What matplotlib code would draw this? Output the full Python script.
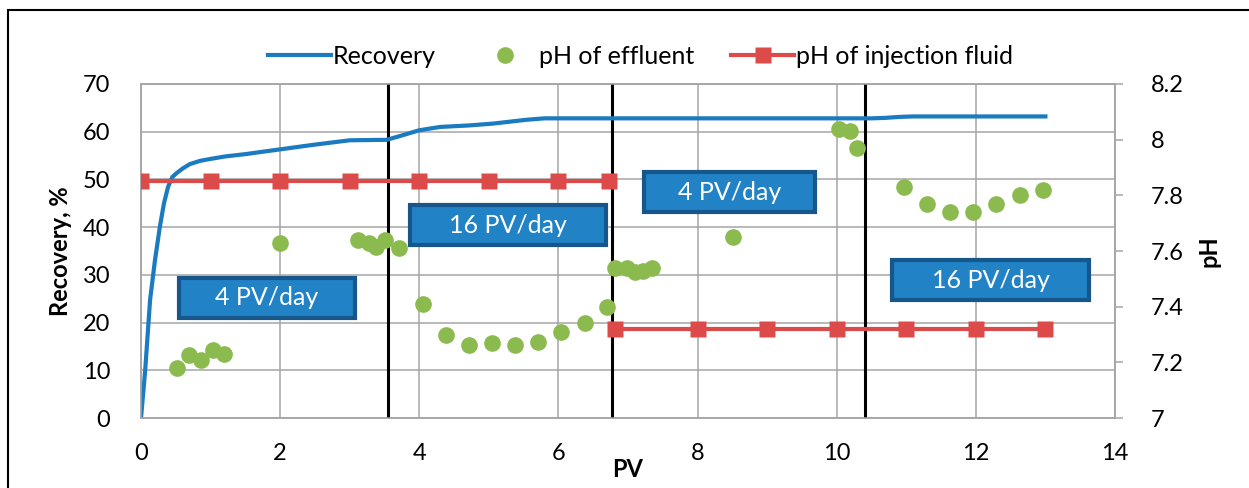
import numpy as np
import matplotlib.pyplot as plt
from matplotlib.patches import Rectangle

plt.rcParams['font.family'] = ['Lato', 'DejaVu Sans']

# recovery curve (left axis)
rec_pv = [0, 0.06, 0.13, 0.2, 0.27, 0.33, 0.39, 0.45, 0.51, 0.6, 0.7, 0.85, 1.0, 1.2,
          1.5, 2.0, 2.5, 3.0, 3.53, 3.7, 4.0, 4.3, 4.7, 5.06, 5.3, 5.54, 5.8, 6.0,
          7.0, 8.0, 9.0, 10.0, 10.5, 10.7, 10.9, 11.1, 12.0, 13.0]
recovery = [0, 10, 24.7, 33, 40, 45, 48.5, 50.5, 51.3, 52.3, 53.2, 53.9, 54.3, 54.8,
            55.3, 56.3, 57.3, 58.2, 58.3, 59.0, 60.3, 61.0, 61.3, 61.7, 62.1, 62.5, 62.8, 62.8,
            62.8, 62.8, 62.8, 62.8, 62.8, 62.9, 63.1, 63.2, 63.2, 63.2]

# pH of effluent (right axis)
eff_pv = [0.52, 0.69, 0.86, 1.03, 1.19, 2.0, 3.12, 3.27, 3.38, 3.51, 3.71,
          4.05, 4.38, 4.72, 5.04, 5.37, 5.71, 6.04, 6.38, 6.70,
          6.81, 6.98, 7.10, 7.22, 7.35, 8.51,
          10.04, 10.19, 10.29, 10.97, 11.30, 11.63, 11.96, 12.29, 12.63, 12.96]
eff_ph = [7.18, 7.225, 7.21, 7.245, 7.23, 7.63, 7.64, 7.628, 7.613, 7.64, 7.61,
          7.41, 7.30, 7.262, 7.27, 7.262, 7.272, 7.31, 7.34, 7.40,
          7.54, 7.54, 7.526, 7.529, 7.54, 7.65,
          8.04, 8.03, 7.97, 7.83, 7.77, 7.74, 7.74, 7.77, 7.80, 7.82]

# pH of injection fluid (right axis)
inj_pv = [0, 1, 2, 3, 4, 5, 6, 6.72, np.nan, 6.82, 8, 9, 10, 11, 12, 13]
inj_ph = [7.85, 7.85, 7.85, 7.85, 7.85, 7.85, 7.85, 7.85, np.nan,
          7.32, 7.32, 7.32, 7.32, 7.32, 7.32, 7.32]

rate_change_pv = [3.55, 6.77, 10.40]
rate_labels = ['4 PV/day', '16 PV/day', '4 PV/day', '16 PV/day']
# label box centre and width (PV, recovery %)
label_pos = [(1.81, 25.2), (5.27, 40.4), (8.46, 47.3), (12.21, 28.9)]
label_w = [2.53, 2.82, 2.45, 2.82]
label_h = 8.4

blue = '#1b7bc1'
green = '#8bbb4e'
red = '#dc4a4a'
grid_c = '#a6a6a6'

fig = plt.figure(figsize=(12.49, 4.88), dpi=100)
ax = fig.add_axes([0.1129, 0.1434, 0.7798, 0.6845])
ax2 = ax.twinx()

ax.set_xlim(0, 14)
ax.set_ylim(0, 70)
ax2.set_ylim(7, 8.2)
ax.set_xticks(np.arange(0, 15, 2))
ax.set_yticks(np.arange(0, 71, 10))
ax2.set_yticks(np.round(np.arange(7, 8.21, 0.2), 1))
ax2.set_yticklabels(['7', '7.2', '7.4', '7.6', '7.8', '8', '8.2'])

ax.grid(True, color=grid_c, lw=1.1)
ax.set_axisbelow(True)
for a in (ax, ax2):
    for s in a.spines.values():
        s.set_color(grid_c)
        s.set_linewidth(1.1)
ax.tick_params(axis='both', length=0, labelsize=17, colors='black')
ax.tick_params(axis='x', pad=18)
ax.tick_params(axis='y', pad=22)
ax2.tick_params(axis='y', length=6, width=1.1, color=grid_c, labelsize=17, pad=20)

for v in rate_change_pv:
    ax.axvline(v, color='black', lw=2.2, zorder=3)

l1, = ax.plot(rec_pv, recovery, color=blue, lw=3, label='Recovery', zorder=4)
l2, = ax2.plot(eff_pv, eff_ph, 'o', color=green, ms=12, mec='none', label='pH of effluent', zorder=5)
l3, = ax2.plot(inj_pv, inj_ph, '-s', color=red, lw=3, ms=11, mec='none',
               label='pH of injection fluid', zorder=4)

for txt, (x, y), w in zip(rate_labels, label_pos, label_w):
    ax.add_patch(Rectangle((x - w / 2, y - label_h / 2), w, label_h, fc='#2183c5',
                           ec='#17568a', lw=3, zorder=6))
    ax.text(x, y, txt, ha='center', va='center', fontsize=18, color='white', zorder=7)

ax.set_ylabel('Recovery, %', fontsize=17, fontweight='bold', labelpad=8)
ax2.set_ylabel('pH', fontsize=17, fontweight='bold', labelpad=10)
ax.set_xlabel('PV', fontsize=17, fontweight='bold', labelpad=-4)

fig.legend([l1, l2, l3], ['Recovery', 'pH of effluent', 'pH of injection fluid'],
           loc='center', bbox_to_anchor=(0.513, 0.884), ncol=3, frameon=False,
           fontsize=18, handlelength=2.5, handletextpad=0.1, columnspacing=1.5)

fig.patches.append(Rectangle((0.0064, -0.05), 1.1, 0.9795 + 0.05, transform=fig.transFigure,
                             fill=False, ec='black', lw=1.5))

fig.savefig('out.png', dpi=100)
